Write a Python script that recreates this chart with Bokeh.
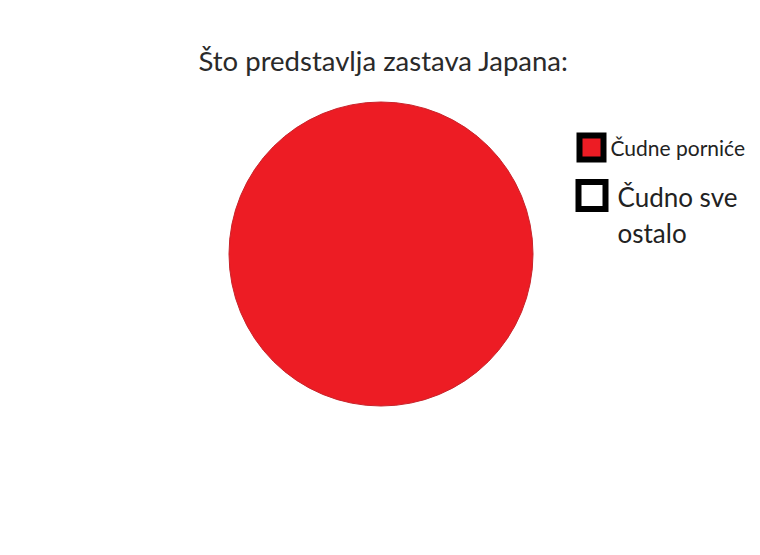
import math
from bokeh.plotting import figure
from bokeh.models import Range1d
from bokeh.core.properties import value
from bokeh.embed import file_html
from bokeh.resources import INLINE

# Data
title_text = "Što predstavlja zastava Japana:"
categories = ["Čudne porniće", "Čudno sve ostalo"]
values = [100, 0]
colors = ["#ED1C24", "#FFFFFF"]

total = float(sum(values))
starts, ends = [], []
acc = 0.0
for v in values:
    starts.append(math.pi / 2 + 2 * math.pi * acc / total)
    acc += v
    ends.append(math.pi / 2 + 2 * math.pi * acc / total)

# screen-pixel coordinate system
W, H = 752, 547
p = figure(width=W, height=H, output_backend="svg", toolbar_location=None,
           x_range=Range1d(0, W), y_range=Range1d(H, 0),
           min_border=0, outline_line_color=None)
p.axis.visible = False
p.grid.visible = False
p.background_fill_color = "white"
p.border_fill_color = "white"

font = value("Lato")

# title
p.text(x=[198], y=[60], text=[title_text], text_font=font, text_font_size="27.5px",
       text_color="#2a2a2a", text_baseline="alphabetic", text_align="left")

# pie
cx, cy, r = 380.5, 253.5, 152
for i, v in enumerate(values):
    if v <= 0:
        continue
    if v >= total:
        p.circle(x=[cx], y=[cy], radius=r, fill_color=colors[i],
                 line_color="#C8232A", line_width=1)
    else:
        p.wedge(x=cx, y=cy, radius=r, start_angle=starts[i], end_angle=ends[i],
                direction="anticlock", fill_color=colors[i], line_color="#C8232A")

# legend
sq_x = [591, 591.5]
sq_y = [147, 195]
sq_s = [24, 27]
p.rect(x=sq_x, y=sq_y, width=sq_s, height=sq_s, fill_color=colors,
       line_color="black", line_width=6, line_join="miter")

p.text(x=[610], y=[147], text=[categories[0]], text_font=font, text_font_size="21px",
       text_color="#222222", text_baseline="alphabetic")
words = categories[1].split(" ")
p.text(x=[617, 617], y=[196, 232], text=[" ".join(words[:2]), " ".join(words[2:])],
       text_font=font, text_font_size="26px", text_color="#222222",
       text_baseline="alphabetic")

open("out.html", "w").write(file_html(p, INLINE))
